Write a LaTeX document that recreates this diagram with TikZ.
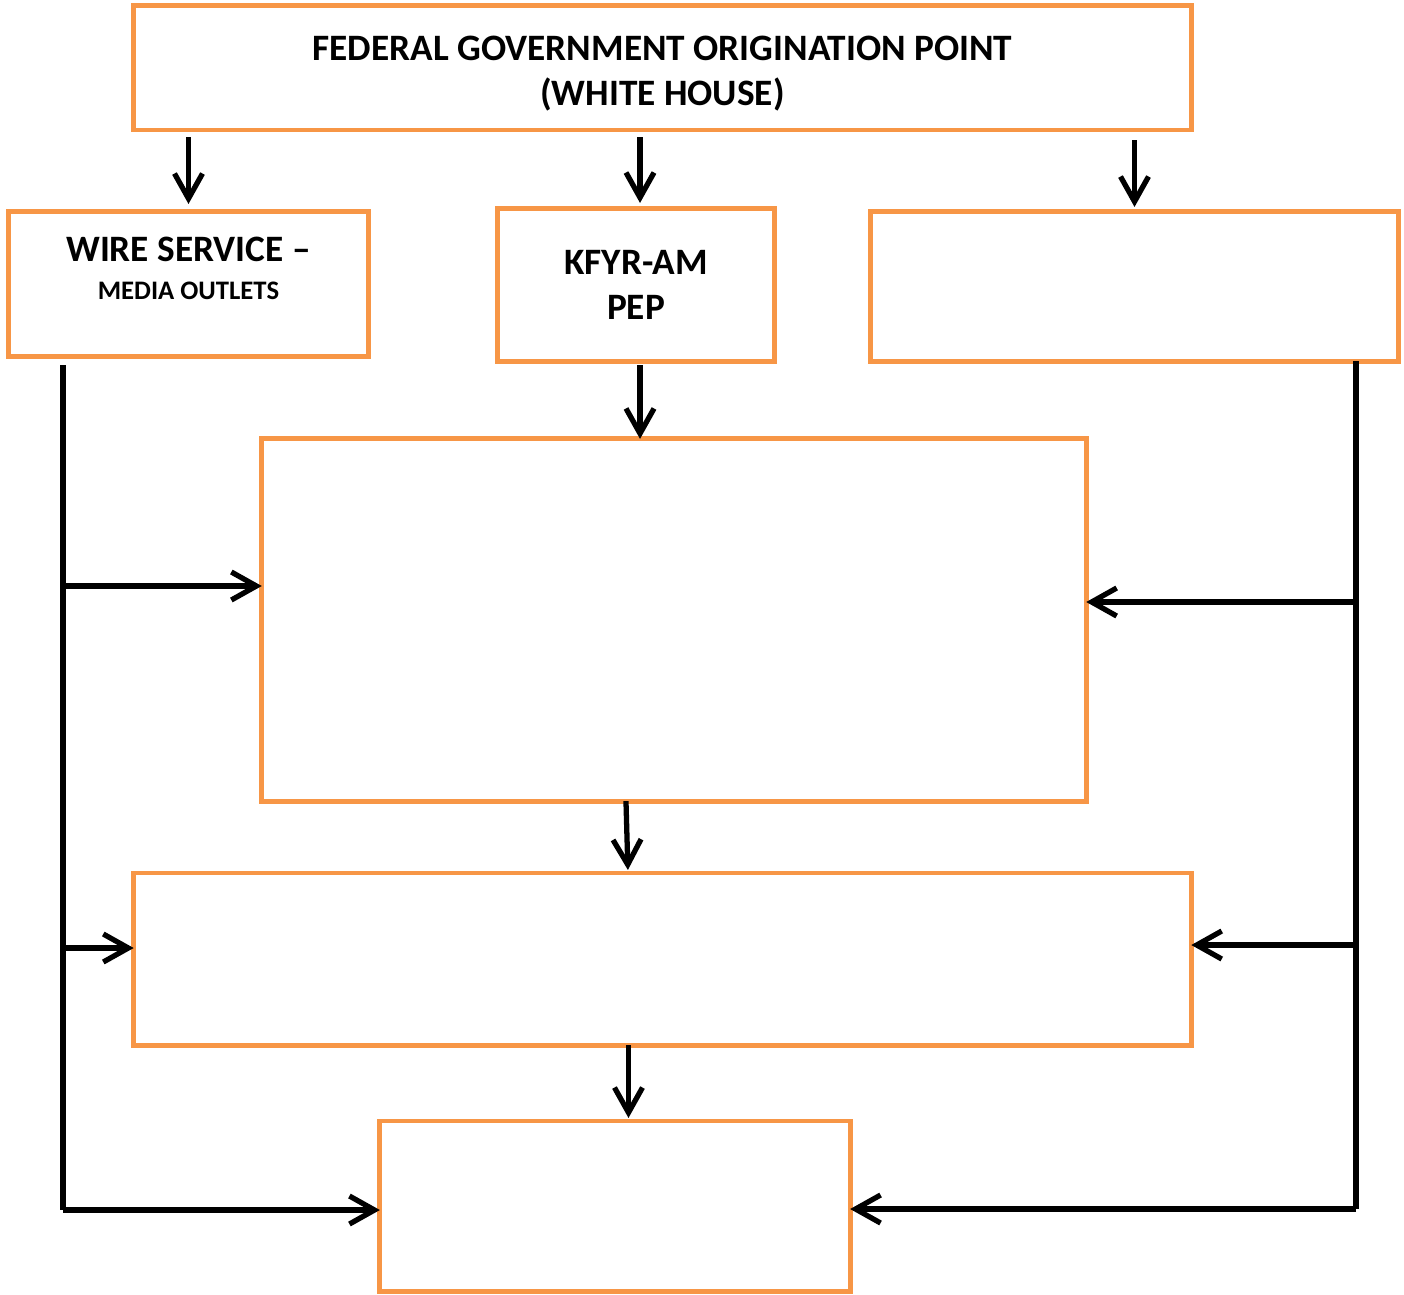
\documentclass[tikz,border=0pt]{standalone}
\usepackage{fontspec}
\setmainfont{Carlito}
\usetikzlibrary{arrows.meta}

\definecolor{boxorange}{HTML}{F79646}

\tikzset{
  flowbox/.style={draw=boxorange, line width=1.4pt, fill=white, inner sep=0pt,
    outer sep=0pt, align=center, font=\bfseries\fontsize{10.6}{12.8}\selectfont},
  flowarrow/.style={draw=black, line width=1.5pt,
    -{Straight Barb[length=2.5mm,width=2.8mm,line width=1.5pt]}},
  flowline/.style={draw=black, line width=1.5pt}
}

\begin{document}
\begin{tikzpicture}[x=0.01cm, y=-0.01cm]
\useasboundingbox (0,0) rectangle (1404,1294);

% boxes
\node[flowbox, minimum width=105.7mm, minimum height=12.4mm] (whitehouse) at (662.5,68)
  {\rule{0pt}{3.5mm}FEDERAL GOVERNMENT ORIGINATION POINT\\(WHITE HOUSE)};
\node[flowbox, minimum width=35.9mm, minimum height=14.4mm] (wire) at (188.5,284)
  {WIRE SERVICE --\\[-2pt]{\fontsize{7.6}{9}\selectfont MEDIA OUTLETS}\rule[-3.2mm]{0pt}{0pt}};
\node[flowbox, minimum width=27.6mm, minimum height=15.2mm] (kfyr) at (636,285)
  {KFYR-AM\\PEP};
\node[flowbox, minimum width=52.7mm, minimum height=14.9mm] (rightbox) at (1134.5,286.5) {};
\node[flowbox, minimum width=82.4mm, minimum height=36.2mm] (central) at (674,620) {};
\node[flowbox, minimum width=105.7mm, minimum height=17.2mm] (wide) at (662.5,959) {};
\node[flowbox, minimum width=47mm, minimum height=17mm] (bottom) at (615,1206) {};

% arrows down from the top box
\draw[flowarrow, shorten <=0.7mm, shorten >=0.8mm] (whitehouse.south -| wire.north) -- (wire.north);
\draw[flowarrow, shorten <=0.7mm, shorten >=0.6mm] ([xshift=0.4mm]whitehouse.south -| kfyr.north) -- ([xshift=0.4mm]kfyr.north);
\draw[flowarrow, shorten <=1mm, shorten >=0.5mm] (whitehouse.south -| rightbox.north) -- (rightbox.north);

% down the middle
\draw[flowarrow, shorten <=0.4mm] ([xshift=0.4mm]kfyr.south) -- ([xshift=0.4mm]kfyr.south |- central.north);
\draw[flowarrow, shorten >=0.3mm] ([xshift=-4.8mm]central.south) -- ([xshift=-4.6mm]central.south |- wide.north);
\draw[flowarrow, shorten >=0.3mm] ([xshift=-3.4mm]wide.south) -- ([xshift=-3.4mm]wide.south |- bottom.north);

% left side line
\coordinate (leftTop) at (63,365);
\coordinate (leftBot) at (63,1210);
\draw[flowline] (leftTop) -- (leftBot);
\draw[flowarrow] (63,586) -- (63,586 -| central.west);
\draw[flowarrow] (63,948) -- (63,948 -| wide.west);
\draw[flowarrow] (leftBot) -- (leftBot -| bottom.west);

% right side line
\coordinate (rightTop) at (1356,361);
\coordinate (rightBot) at (1356,1209);
\draw[flowline] (rightTop) -- (rightBot);
\draw[flowarrow] (1356,602) -- (1356,602 -| central.east);
\draw[flowarrow] (1356,945) -- (1356,945 -| wide.east);
\draw[flowarrow] (rightBot) -- (rightBot -| bottom.east);
\end{tikzpicture}
\end{document}
